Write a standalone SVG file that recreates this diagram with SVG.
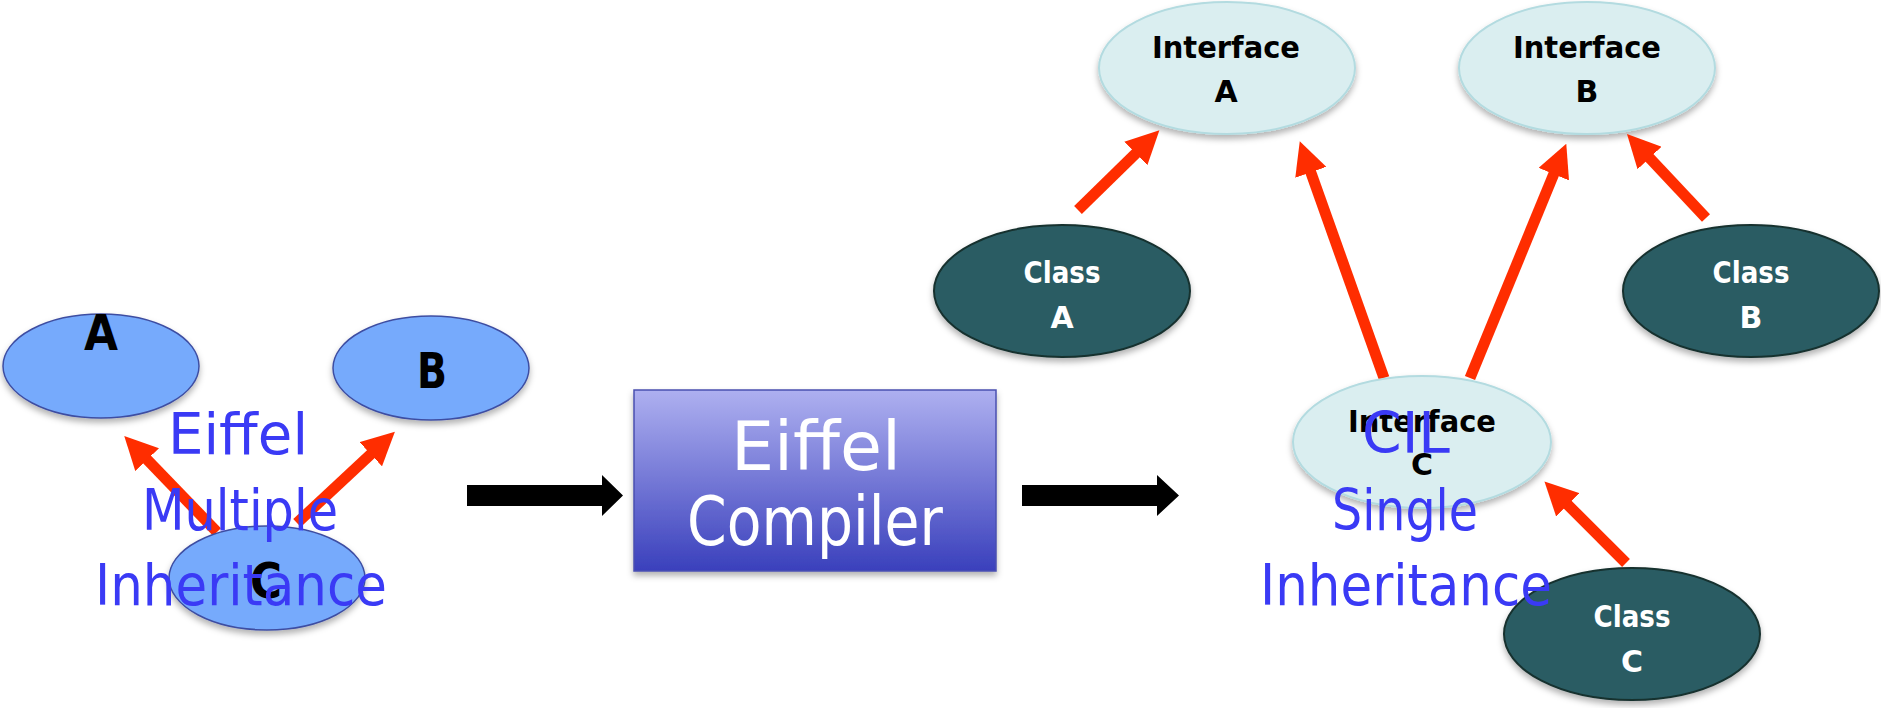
<svg xmlns="http://www.w3.org/2000/svg" width="1881" height="708" viewBox="0 0 1881 708">
<defs>
<style>
.lb{fill:#76aafc;stroke:#3e4ea2;stroke-width:1.5}
.ifc{fill:#daeef0;stroke:#b3dbe0;stroke-width:2}
.cls{fill:#2a5c63;stroke:#17302f;stroke-width:2}
.big{font-family:"DejaVu Sans","Liberation Sans",sans-serif;font-weight:bold;font-size:50px;fill:#000;text-anchor:middle}
.lab{font-family:"DejaVu Sans","Liberation Sans",sans-serif;font-weight:bold;font-size:30px;text-anchor:middle}
.dk{fill:#000}
.wt{fill:#fff}
.blue{font-family:"DejaVu Sans","Liberation Sans",sans-serif;font-size:57px;fill:#3a3af5;text-anchor:middle}
.comp{font-family:"DejaVu Sans","Liberation Sans",sans-serif;font-size:68px;fill:#fff;text-anchor:middle}
.red{stroke:#ff2d00;stroke-width:11;fill:none;marker-end:url(#rh)}
.blk{fill:#000}
</style>
<marker id="rh" viewBox="0 0 10 10" refX="3" refY="5" markerWidth="3" markerHeight="3" orient="auto" markerUnits="strokeWidth">
<path d="M0,0 L10,5 L0,10 z" fill="#ff2d00"/>
</marker>
<linearGradient id="cg" x1="0" y1="0" x2="0" y2="1">
<stop offset="0" stop-color="#aeb0f0"/>
<stop offset="1" stop-color="#3a40bc"/>
</linearGradient>
<filter id="sh" x="-10%" y="-10%" width="120%" height="130%">
<feDropShadow dx="0" dy="4" stdDeviation="3" flood-color="#000" flood-opacity="0.3"/>
</filter>
</defs>
<rect width="1881" height="708" fill="#fff"/>

<g id="node-A">
<ellipse class="lb" cx="101" cy="366" rx="98" ry="52" filter="url(#sh)"/>
<text class="big" x="101" y="350" textLength="34" lengthAdjust="spacingAndGlyphs">A</text>
</g>
<g id="node-B">
<ellipse class="lb" cx="431" cy="368" rx="98" ry="52" filter="url(#sh)"/>
<text class="big" x="432" y="388" textLength="30" lengthAdjust="spacingAndGlyphs">B</text>
</g>

<g id="node-IA">
<ellipse class="ifc" cx="1227" cy="68" rx="128" ry="66" filter="url(#sh)"/>
<text class="lab dk" x="1226" y="58" textLength="148" lengthAdjust="spacingAndGlyphs">Interface</text>
<text class="lab dk" x="1226" y="102">A</text>
</g>
<g id="node-IB">
<ellipse class="ifc" cx="1587" cy="68" rx="128" ry="66" filter="url(#sh)"/>
<text class="lab dk" x="1587" y="58" textLength="148" lengthAdjust="spacingAndGlyphs">Interface</text>
<text class="lab dk" x="1587" y="102">B</text>
</g>
<g id="node-CA">
<ellipse class="cls" cx="1062" cy="291" rx="128" ry="66" filter="url(#sh)"/>
<text class="lab wt" x="1062" y="283" textLength="77" lengthAdjust="spacingAndGlyphs">Class</text>
<text class="lab wt" x="1062" y="328">A</text>
</g>
<g id="node-CB">
<ellipse class="cls" cx="1751" cy="291" rx="128" ry="66" filter="url(#sh)"/>
<text class="lab wt" x="1751" y="283" textLength="77" lengthAdjust="spacingAndGlyphs">Class</text>
<text class="lab wt" x="1751" y="328">B</text>
</g>
<g id="node-CC">
<ellipse class="cls" cx="1632" cy="634" rx="128" ry="66" filter="url(#sh)"/>
<text class="lab wt" x="1632" y="627" textLength="77" lengthAdjust="spacingAndGlyphs">Class</text>
<text class="lab wt" x="1632" y="672">C</text>
</g>

<g id="connectors">
<line class="red" x1="217" y1="532" x2="140.3" y2="452.5"/>
<line class="red" x1="297" y1="523" x2="378" y2="447.5"/>
<line class="red" x1="1078" y1="210" x2="1142.9" y2="146.5"/>
<line class="red" x1="1384" y1="378" x2="1307.5" y2="163"/>
<line class="red" x1="1470" y1="378" x2="1557.5" y2="165"/>
<line class="red" x1="1706" y1="218" x2="1642.8" y2="150.8"/>
<line class="red" x1="1626" y1="563" x2="1560.8" y2="497.8"/>
<polygon class="blk" points="467,485 602,485 602,475 623,495.5 602,516 602,506 467,506"/>
<polygon class="blk" points="1022,485 1157,485 1157,475 1179,495.5 1157,516 1157,506 1022,506"/>
</g>

<g id="node-C">
<ellipse class="lb" cx="267" cy="578" rx="98" ry="52" filter="url(#sh)"/>
<text class="big" x="266" y="598" textLength="32" lengthAdjust="spacingAndGlyphs">C</text>
</g>

<g id="node-IC">
<ellipse class="ifc" cx="1422" cy="442" rx="129" ry="66" filter="url(#sh)"/>
<text class="lab dk" x="1422" y="432" textLength="148" lengthAdjust="spacingAndGlyphs">Interface</text>
<text class="lab dk" x="1422" y="475">C</text>
</g>

<g id="node-compiler">
<rect x="634" y="390" width="362" height="181" fill="url(#cg)" stroke="#4a50b0" stroke-width="1.5" filter="url(#sh)"/>
<text class="comp" x="816" y="470" textLength="170" lengthAdjust="spacingAndGlyphs">Eiffel</text>
<text class="comp" x="815" y="545" textLength="256" lengthAdjust="spacingAndGlyphs">Compiler</text>
</g>

<g id="label-left">
<text class="blue" x="238" y="454" textLength="140" lengthAdjust="spacingAndGlyphs">Eiffel</text>
<text class="blue" x="240" y="530" textLength="196" lengthAdjust="spacingAndGlyphs">Multiple</text>
<text class="blue" x="241" y="605" textLength="292" lengthAdjust="spacingAndGlyphs">Inheritance</text>
</g>
<g id="label-right">
<text class="blue" x="1406" y="453" textLength="88" lengthAdjust="spacingAndGlyphs">CIL</text>
<text class="blue" x="1405" y="530" textLength="146" lengthAdjust="spacingAndGlyphs">Single</text>
<text class="blue" x="1406" y="605" textLength="292" lengthAdjust="spacingAndGlyphs">Inheritance</text>
</g>
</svg>
